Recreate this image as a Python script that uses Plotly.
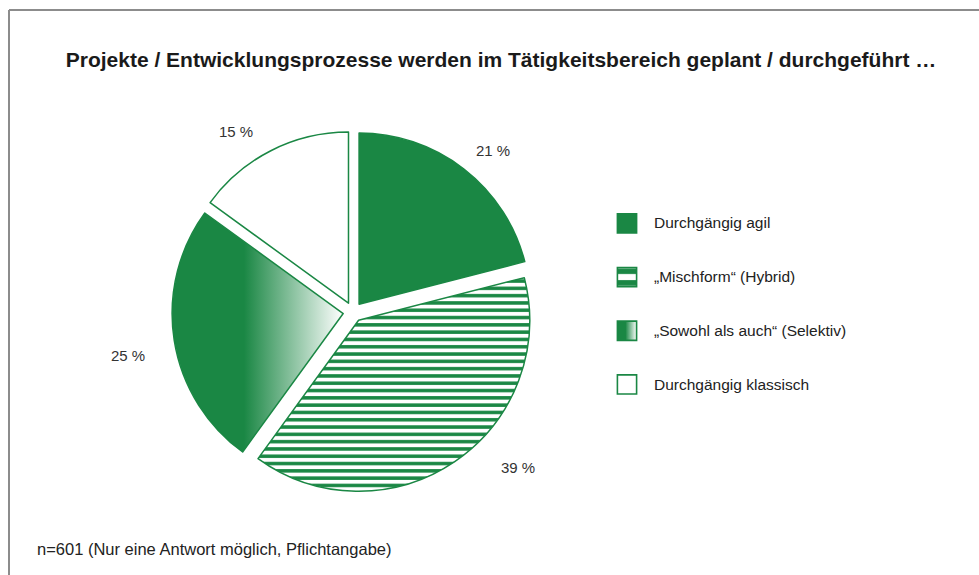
import plotly.graph_objects as go

# ── data ─────────────────────────────────────────────────────────────────────
categories = [
    "Durchgängig agil",
    "„Mischform“ (Hybrid)",
    "„Sowohl als auch“ (Selektiv)",
    "Durchgängig klassisch",
]
shares = [21, 39, 25, 15]          # percent

TITLE = "Projekte / Entwicklungsprozesse werden im Tätigkeitsbereich geplant / durchgeführt …"
NOTE = "n=601 (Nur eine Antwort möglich, Pflichtangabe)"

# ── styles ───────────────────────────────────────────────────────────────────
GREEN = "#1a8744"
WHITE = "#ffffff"
FONT = "Liberation Sans, Arial, sans-serif"

# the page margin is removed in the post script, so the figure fills the window
W, H = 979, 575


def px(x):
    return x / W


def py(y):
    return 1 - y / H


slice_colors = [GREEN, WHITE, GREEN, WHITE]
slice_patterns = ["", "-", "", ""]

# pie box (window pixels): centre and half size
CX, CY, HALF = 353, 312, 181

# where the percent labels sit (window pixels)
label_pos = [(493, 150), (518, 467), (128, 355), (236, 132)]

fig = go.Figure()

fig.add_trace(go.Pie(
    # padding lines give the legend rows their loose spacing
    labels    = [" <br><span style='font-size:15.5px'>" + c + "</span><br> "
                 for c in categories],
    values    = shares,
    sort      = False,
    direction = "clockwise",
    rotation  = 0,
    pull      = [0.058] * len(shares),
    textinfo  = "none",
    hoverinfo = "percent",
    domain    = dict(x=[px(CX - HALF), px(CX + HALF)],
                     y=[py(CY + HALF), py(CY - HALF)]),
    marker    = dict(
        colors  = slice_colors,
        line    = dict(color=GREEN, width=1.5),
        pattern = dict(shape=slice_patterns, fillmode="replace",
                       fgcolor=GREEN, bgcolor=WHITE,
                       size=7.3, solidity=0.48),
    ),
))

annotations = []
for v, (lx, ly) in zip(shares, label_pos):
    annotations.append(dict(
        text=f"{v} %", x=px(lx), y=py(ly), xref="paper", yref="paper",
        xanchor="center", yanchor="middle", showarrow=False,
        font=dict(size=15, color="#333333", family=FONT),
    ))
annotations.append(dict(
    text=NOTE, x=px(35), y=py(549), xref="paper", yref="paper",
    xanchor="left", yanchor="middle", showarrow=False,
    font=dict(size=16.5, color="#222222", family=FONT),
))

# outer frame: only top and left edges are inside the window
frame = dict(color="#8c8c8c", width=2)
shapes = [
    dict(type="line", xref="paper", yref="paper",
         x0=px(9), x1=1.0, y0=py(10), y1=py(10), line=frame),
    dict(type="line", xref="paper", yref="paper",
         x0=px(9), x1=px(9), y0=0.0, y1=py(10), line=frame),
]

fig.update_layout(
    width  = W,
    height = H,
    margin = dict(l=0, r=0, t=0, b=0),
    paper_bgcolor = WHITE,
    plot_bgcolor  = WHITE,
    font   = dict(family=FONT, color="#222222"),
    title  = dict(
        text = f"<b>{TITLE}</b>",
        x = px(501), y = py(60), xanchor="center", yanchor="middle",
        font = dict(size=21, color="#1a1a1a", family=FONT),
    ),
    legend = dict(
        x = px(607), y = py(304), xanchor="left", yanchor="middle",
        font = dict(size=13, color="#222222", family=FONT),
        itemwidth = 37,
        bgcolor = "rgba(0,0,0,0)",
    ),
    annotations = annotations,
    shapes = shapes,
)

# no page margin / scrollbars; horizontal green->white fade for the
# "Selektiv" slice and its legend swatch; bigger legend squares
post = """
document.documentElement.style.overflow = 'hidden';
document.body.style.margin = '0';
document.body.style.overflow = 'hidden';
var gd = document.getElementById('{plot_id}');
var ns = 'http://www.w3.org/2000/svg';
var defs = gd.querySelector('svg.main-svg defs');
var lg = document.createElementNS(ns, 'linearGradient');
lg.setAttribute('id', 'selfade');
[[0, '%s'], [0.42, '%s'], [1, '#ffffff']].forEach(function(s) {
    var st = document.createElementNS(ns, 'stop');
    st.setAttribute('offset', s[0]);
    st.setAttribute('stop-color', s[1]);
    lg.appendChild(st);
});
defs.appendChild(lg);
var sl = gd.querySelectorAll('g.slice path.surface');
if (sl.length > 2) sl[2].style.fill = 'url(#selfade)';
var lp = gd.querySelectorAll('path.legendpie');
if (lp.length > 2) lp[2].style.fill = 'url(#selfade)';
lp.forEach(function(p) {
    p.setAttribute('transform', 'translate(20,0) scale(1.6)');
    p.style.strokeWidth = '1px';
});
""" % (GREEN, GREEN)

fig.write_html("out.html", post_script=post,
               config={"displayModeBar": False})
